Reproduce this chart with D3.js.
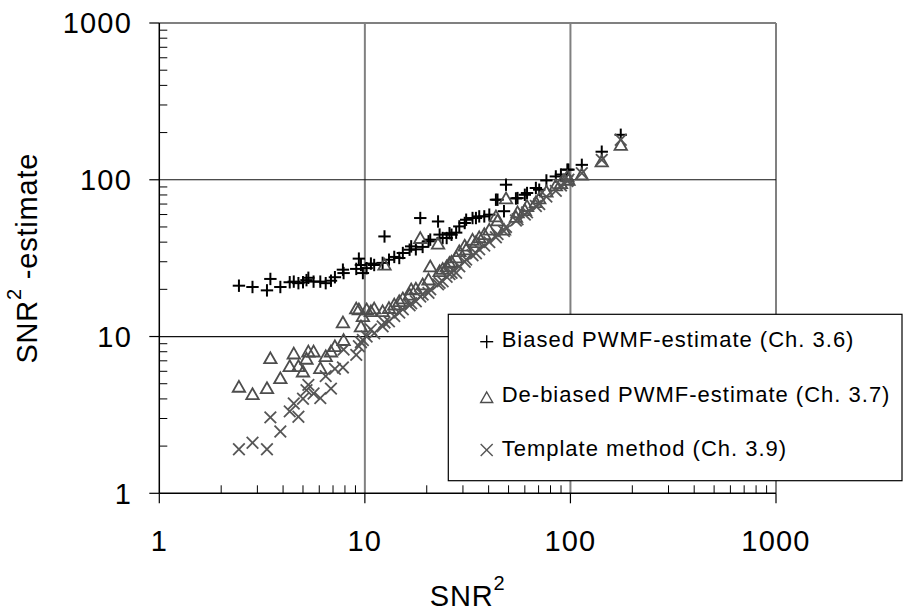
<!DOCTYPE html>
<html><head><meta charset="utf-8">
<script src="https://cdn.jsdelivr.net/npm/d3@7"></script>
<style>
html,body{margin:0;padding:0;background:#fff;}
svg{display:block;font-family:"Liberation Sans",Arial,sans-serif;}
</style></head>
<body><svg id="chart" width="913" height="614"></svg>
<script>
// SNR^2 (true) values shared by all three estimators
const snr2 = [2.44,2.84,3.34,3.47,3.88,4.31,4.51,4.75,5.00,5.20,5.31,5.63,6.07,6.45,6.84,7.15,7.82,7.88,
  9.08,9.35,9.57,9.78,10.2,10.7,11.1,12.2,12.46,13.1,13.9,14.7,15.3,16.5,16.8,17.7,18.6,19.1,20.4,20.8,
  22.7,23.1,23.9,25.0,25.8,26.4,27.8,28.8,30.6,31.1,33.4,34.7,36.0,38.1,40.3,43.4,44.2,47.5,48.6,54.3,
  55.3,60.0,61.5,67.9,70.5,76.4,84.9,89.9,96.6,97.8,113.6,142,175.7];
const biased = [21.1,20.7,19.7,23.3,20.7,22.2,22.4,21.9,22.2,22.9,23.7,22.4,22.4,21.9,22.7,23.9,26.7,25.4,
  27.0,31.4,28.6,25.4,27.3,29.2,28.6,29.5,43.5,30.9,32.2,31.7,34.1,35.8,37.6,36.0,57.0,37.3,40.5,41.5,
  54.2,44.7,42.5,42.5,45.6,44.6,46.0,50.4,53.0,55.6,57.0,57.0,58.4,58.4,59.9,74.6,74.6,63.0,93.0,76.0,
  76.4,80.2,82.3,88.6,86.4,99.0,105,108,116,116,124.5,151,193.6];
const debiased = [4.78,4.29,4.69,7.27,5.42,6.47,7.79,6.47,5.98,7.21,8.02,8.02,6.28,7.49,8.02,8.67,12.3,9.5,
  15.1,14.9,11.6,13.5,14.9,14.5,15.1,14.5,28.7,15.2,16.0,16.8,17.5,18.5,20.0,20.2,42.5,21.5,23.1,28.0,
  39.1,26.1,27.0,28.0,29.5,30.0,32.0,35.0,38.0,36.0,41.4,40.0,43.0,45.0,48.0,58.4,55.0,48.0,76.0,58.0,
  62.0,64.0,68.0,72.0,76.0,84.0,92.0,95.0,105,100,108,131,167];
const template = [1.91,2.10,1.91,3.05,2.48,3.33,3.74,3.08,4.01,4.55,4.92,4.33,4.05,5.59,4.65,6.22,6.35,8.26,
  7.64,8.67,9.2,9.5,10.0,11.1,10.5,11.6,12.3,12.5,13.5,14.2,14.9,15.8,16.3,16.8,18.0,18.5,19.0,20.0,
  21.5,22.0,22.5,24.0,25.0,25.5,25.5,28.0,30.0,31.0,33.0,34.0,36.0,38.0,40.0,43.0,45.0,47.0,50.0,55.0,
  56.0,60.0,62.0,68.0,70.0,78.0,85.0,92.0,98.0,100,110,134,180];
const majorTicks = [1,10,100,1000];
const tickLabels = ["1","10","100","1000"];
const legendLabels = ["Biased PWMF-estimate (Ch. 3.6)","De-biased PWMF-estimate (Ch. 3.7)","Template method (Ch. 3.9)"];

const svg = d3.select("#chart");
const L=159.3, R=776, T=23, B=493.3;
const x = d3.scaleLog().domain([1,1000]).range([L,R]);
const y = d3.scaleLog().domain([1,1000]).range([B,T]);
const minor = [];
[1,10,100].forEach(d=>{for(let k=2;k<=9;k++) minor.push(d*k);});

// vertical gridlines (gray)
svg.append("g").selectAll("line").data([10,100,1000]).join("line")
  .attr("x1",d=>x(d)).attr("x2",d=>x(d)).attr("y1",T).attr("y2",B)
  .attr("stroke","#808080").attr("stroke-width",2);
// top border (gray)
svg.append("line").attr("x1",L).attr("x2",R).attr("y1",y(1000)).attr("y2",y(1000))
  .attr("stroke","#808080").attr("stroke-width",2);
// horizontal gridlines (black)
svg.append("g").selectAll("line").data([10,100]).join("line")
  .attr("x1",L).attr("x2",R).attr("y1",d=>y(d)).attr("y2",d=>y(d))
  .attr("stroke","#111").attr("stroke-width",1.2);

// Y axis
const yAxis = svg.append("g");
yAxis.append("line").attr("x1",L).attr("x2",L).attr("y1",T).attr("y2",B).attr("stroke","#000").attr("stroke-width",1.5);
yAxis.selectAll(".mn").data(minor).join("line").attr("class","mn")
  .attr("x1",L).attr("x2",L+8).attr("y1",d=>y(d)).attr("y2",d=>y(d)).attr("stroke","#000").attr("stroke-width",1);
yAxis.selectAll(".mj").data(majorTicks).join("line").attr("class","mj")
  .attr("x1",L-10).attr("x2",L).attr("y1",d=>y(d)).attr("y2",d=>y(d)).attr("stroke","#000").attr("stroke-width",1.2);
yAxis.selectAll("text").data(majorTicks).join("text")
  .attr("x",132).attr("y",d=>y(d)+10.3).attr("text-anchor","end")
  .attr("font-size",29).attr("letter-spacing",1.2).attr("fill","#000")
  .text((d,i)=>tickLabels[i]);

// X axis
const xAxis = svg.append("g");
xAxis.append("line").attr("x1",L).attr("x2",R).attr("y1",B).attr("y2",B).attr("stroke","#000").attr("stroke-width",1.5);
xAxis.selectAll(".mn").data(minor).join("line").attr("class","mn")
  .attr("x1",d=>x(d)).attr("x2",d=>x(d)).attr("y1",B-8).attr("y2",B).attr("stroke","#000").attr("stroke-width",1);
xAxis.selectAll(".mj").data(majorTicks).join("line").attr("class","mj")
  .attr("x1",d=>x(d)).attr("x2",d=>x(d)).attr("y1",B).attr("y2",B+10).attr("stroke","#000").attr("stroke-width",1.2);
xAxis.selectAll("text").data(majorTicks).join("text")
  .attr("x",d=>x(d)).attr("y",550.7).attr("text-anchor","middle")
  .attr("font-size",29).attr("letter-spacing",1.2).attr("fill","#000")
  .text((d,i)=>tickLabels[i]);

// Axis titles
const xt = svg.append("text").attr("x",(L+R)/2).attr("y",606).attr("text-anchor","middle")
  .attr("font-size",29).attr("letter-spacing",0.8).attr("fill","#000");
xt.append("tspan").text("SNR");
xt.append("tspan").attr("font-size",20).attr("dy",-15.7).text("2");

const yt = svg.append("text").attr("transform",`translate(37,${(T+B)/2}) rotate(-90)`)
  .attr("text-anchor","middle").attr("font-size",29).attr("letter-spacing",0.8).attr("fill","#000");
yt.append("tspan").text("SNR");
yt.append("tspan").attr("font-size",20).attr("dy",-15.7).text("2");
yt.append("tspan").attr("dy",15.7).text(" -estimate");

// marker drawers
function plus(g,cx,cy,s,w,c){
  g.append("line").attr("x1",cx-s).attr("x2",cx+s).attr("y1",cy).attr("y2",cy).attr("stroke",c).attr("stroke-width",w);
  g.append("line").attr("x1",cx).attr("x2",cx).attr("y1",cy-s).attr("y2",cy+s).attr("stroke",c).attr("stroke-width",w);
}
function cross(g,cx,cy,s,w,c){
  g.append("line").attr("x1",cx-s).attr("x2",cx+s).attr("y1",cy-s).attr("y2",cy+s).attr("stroke",c).attr("stroke-width",w);
  g.append("line").attr("x1",cx-s).attr("x2",cx+s).attr("y1",cy+s).attr("y2",cy-s).attr("stroke",c).attr("stroke-width",w);
}
function tri(g,cx,cy,s,w,c){
  g.append("path").attr("d",`M${cx},${cy-s*0.95}L${cx+s},${cy+s*0.8}L${cx-s},${cy+s*0.8}Z`)
    .attr("fill","none").attr("stroke",c).attr("stroke-width",w).attr("stroke-linejoin","miter");
}
const gB = svg.append("g"), gD = svg.append("g"), gT = svg.append("g");
snr2.forEach((v,i)=>plus(gB,x(v),y(biased[i]),6.2,2,"#000"));
snr2.forEach((v,i)=>tri(gD,x(v),y(debiased[i]),6.2,1.8,"#4d4d4d"));
snr2.forEach((v,i)=>cross(gT,x(v),y(template[i]),5.8,1.8,"#555"));

// Legend
const lg = svg.append("g");
lg.append("rect").attr("x",448.3).attr("y",314.3).attr("width",902-448.3).attr("height",480.7-314.3)
  .attr("fill","#fff").attr("stroke","#000").attr("stroke-width",1.2);
const rows = [341.7,396.7,450];
plus(lg,486.7,rows[0],6.5,1.4,"#000");
tri(lg,486.7,rows[1]+1,6,1.4,"#4d4d4d");
cross(lg,486.7,rows[2],6,1.4,"#555");
lg.selectAll("text").data(legendLabels).join("text")
  .attr("x",501.7).attr("y",(d,i)=>rows[i]+5.5).attr("font-size",22).attr("letter-spacing",1)
  .attr("fill","#000").text(d=>d);
</script></body></html>
